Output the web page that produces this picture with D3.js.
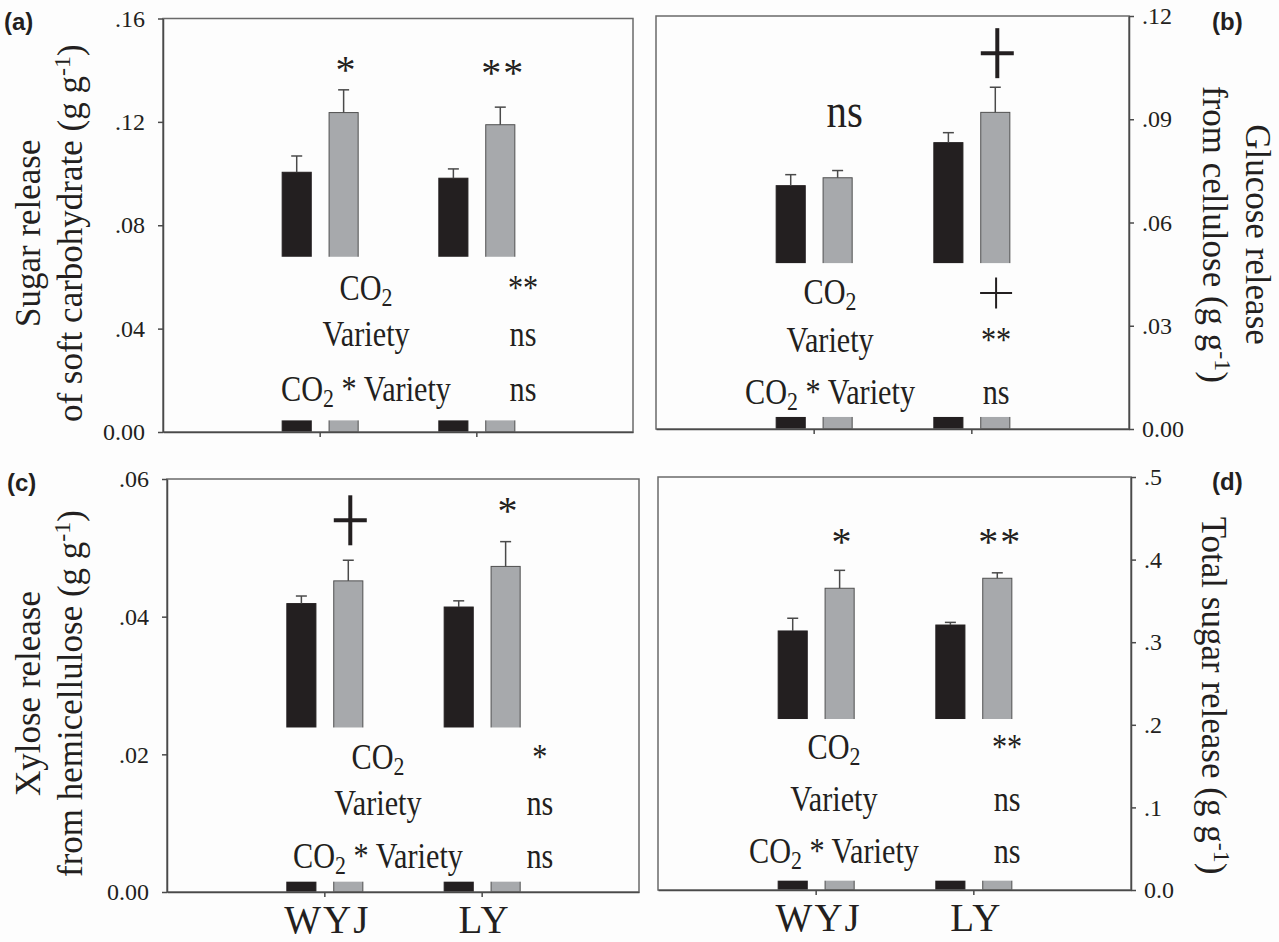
<!DOCTYPE html>
<html>
<head>
<meta charset="utf-8">
<script src="https://cdn.jsdelivr.net/npm/d3@7"></script>
<style>
body { margin: 0; background: #fdfdfd; }
svg { display: block; font-family: "Liberation Serif", "Times New Roman", serif; }
</style>
</head>
<body>
<svg id="chart" width="1279" height="942"></svg>
<script>
// categories
var varieties = ["WYJ", "LY"];
var co2Levels = ["ambient", "elevated"];
var statRows = ["CO2", "Variety", "CO2 * Variety"];

// (a) sugar release of soft carbohydrate
var sugarAmbient = [0.1005, 0.0982];
var sugarAmbientErr = [0.0063, 0.0036];
var sugarElevated = [0.1236, 0.1189];
var sugarElevatedErr = [0.0088, 0.0068];
var sugarTicks = [0, 0.04, 0.08, 0.12, 0.16];
var sugarTickLabels = ["0.00", ".04", ".08", ".12", ".16"];
var sugarBreak = [0.0045, 0.0678];
var sugarSig = ["*", "**"];
var sugarStats = ["**", "ns", "ns"];

// (b) glucose release from cellulose
var glucoseAmbient = [0.0707, 0.0832];
var glucoseAmbientErr = [0.0032, 0.0029];
var glucoseElevated = [0.0730, 0.0920];
var glucoseElevatedErr = [0.0021, 0.0073];
var glucoseTicks = [0, 0.03, 0.06, 0.09, 0.12];
var glucoseTickLabels = ["0.00", ".03", ".06", ".09", ".12"];
var glucoseBreak = [0.0035, 0.0482];
var glucoseSig = ["ns", "+"];
var glucoseStats = ["+", "**", "ns"];

// (c) xylose release from hemicellulose
var xyloseAmbient = [0.0419, 0.0414];
var xyloseAmbientErr = [0.0011, 0.0009];
var xyloseElevated = [0.0452, 0.0473];
var xyloseElevatedErr = [0.0030, 0.0036];
var xyloseTicks = [0, 0.02, 0.04, 0.06];
var xyloseTickLabels = ["0.00", ".02", ".04", ".06"];
var xyloseBreak = [0.0015, 0.0239];
var xyloseSig = ["+", "*"];
var xyloseStats = ["*", "ns", "ns"];

// (d) total sugar release
var totalAmbient = [0.3136, 0.3208];
var totalAmbientErr = [0.0154, 0.0032];
var totalElevated = [0.3653, 0.3774];
var totalElevatedErr = [0.0217, 0.0066];
var totalTicks = [0, 0.1, 0.2, 0.3, 0.4, 0.5];
var totalTickLabels = ["0.0", ".1", ".2", ".3", ".4", ".5"];
var totalBreak = [0.0113, 0.207];
var totalSig = ["*", "**"];
var totalStats = ["**", "ns", "ns"];

var svg = d3.select("#chart");
var ink = "#231f20";
var bg = "#fdfdfd";

//Layout of the four panels
var panels = [
  {tag: "(a)", amb: sugarAmbient, ambErr: sugarAmbientErr, ele: sugarElevated, eleErr: sugarElevatedErr,
   ticks: sugarTicks, labels: sugarTickLabels, brk: sugarBreak, sig: sugarSig, stats: sugarStats,
   x0: 163, x1: 633, y0: 18.5, y1: 432, side: "left", sigLevel: [0.135, 0.134],
   statLabelX: 0.432, statValX: 0.766, rowY: [300, 346, 401], xLabels: false,
   title: [["Sugar release"], ["of soft carbohydrate (g g", "-1", ")"]], titleX: [40, 82], tagX: 4, tagY: 30},
  {tag: "(b)", amb: glucoseAmbient, ambErr: glucoseAmbientErr, ele: glucoseElevated, eleErr: glucoseElevatedErr,
   ticks: glucoseTicks, labels: glucoseTickLabels, brk: glucoseBreak, sig: glucoseSig, stats: glucoseStats,
   x0: 656, x1: 1129, y0: 16, y1: 429, side: "right", sigLevel: [0.0877, 0.1092],
   statLabelX: 0.368, statValX: 0.719, rowY: [304, 352, 404], xLabels: false,
   title: [["Glucose release"], ["from cellulose (g g", "-1", ")"]], titleX: [1246, 1203], tagX: 1212, tagY: 30},
  {tag: "(c)", amb: xyloseAmbient, ambErr: xyloseAmbientErr, ele: xyloseElevated, eleErr: xyloseElevatedErr,
   ticks: xyloseTicks, labels: xyloseTickLabels, brk: xyloseBreak, sig: xyloseSig, stats: xyloseStats,
   x0: 167, x1: 639, y0: 479, y1: 892, side: "left", sigLevel: [0.054, 0.0535],
   statLabelX: 0.447, statValX: 0.790, rowY: [769, 815, 868], xLabels: true,
   title: [["Xylose release"], ["from hemicellulose (g g", "-1", ")"]], titleX: [40, 82], tagX: 7, tagY: 491},
  {tag: "(d)", amb: totalAmbient, ambErr: totalAmbientErr, ele: totalElevated, eleErr: totalElevatedErr,
   ticks: totalTicks, labels: totalTickLabels, brk: totalBreak, sig: totalSig, stats: totalStats,
   x0: 658, x1: 1131, y0: 477, y1: 890, side: "right", sigLevel: [0.4056, 0.4056],
   statLabelX: 0.372, statValX: 0.738, rowY: [759, 811, 863], xLabels: true,
   title: [["Total sugar release (g g", "-1", ")"]], titleX: [1202], tagX: 1212, tagY: 490}
];

//Draws a plus sign (the "+" significance mark) centred on cx, cy
function cross(g, cx, cy, w, h, sw) {
  g.append("line").attr("x1", cx - w / 2).attr("x2", cx + w / 2).attr("y1", cy).attr("y2", cy)
    .attr("stroke", ink).attr("stroke-width", sw);
  g.append("line").attr("x1", cx).attr("x2", cx).attr("y1", cy - h / 2).attr("y2", cy + h / 2)
    .attr("stroke", ink).attr("stroke-width", sw);
}

//Condensed serif text, with CO2 written with a subscript
function statText(g, x, y, str) {
  var t = g.append("text")
    .attr("transform", "translate(" + x + "," + y + ") scale(0.84,1)")
    .attr("text-anchor", "middle")
    .attr("font-size", 36)
    .attr("fill", ink);
  var parts = str.split("CO2");
  var shifted = false;
  parts.forEach(function(part, i) {
    if (i > 0) {
      t.append("tspan").text("CO");
      t.append("tspan").attr("dy", 6).attr("font-size", 26).text("2");
      shifted = true;
    }
    if (part.length) {
      var sp = t.append("tspan").text(part);
      if (shifted) { sp.attr("dy", -6); shifted = false; }
    }
  });
  return t;
}

function drawPanel(p) {
  var g = svg.append("g");
  var y = d3.scaleLinear().domain([0, p.ticks[p.ticks.length - 1]]).range([p.y1, p.y0]);
  var x = d3.scalePoint().domain(varieties).range([p.x0, p.x1]).padding(1);
  var inner = d3.scaleBand().domain(co2Levels).range([-37.5, 38.5]).paddingInner(0.38);
  var bw = inner.bandwidth();

  var rows = [];
  varieties.forEach(function(v, i) {
    rows.push({v: v, lvl: "ambient", val: p.amb[i], err: p.ambErr[i]});
    rows.push({v: v, lvl: "elevated", val: p.ele[i], err: p.eleErr[i]});
  });

  g.selectAll("rect.bar").data(rows).enter().append("rect")
    .attr("class", "bar")
    .attr("x", function(d) { return x(d.v) + inner(d.lvl); })
    .attr("y", function(d) { return y(d.val); })
    .attr("width", bw)
    .attr("height", function(d) { return y(0) - y(d.val); })
    .attr("fill", function(d) { return d.lvl == "ambient" ? ink : "#a7a9ac"; })
    .attr("stroke", function(d) { return d.lvl == "ambient" ? ink : "#505050"; })
    .attr("stroke-width", 1);

  //white gap where the statistics sit
  g.append("rect")
    .attr("x", p.x0 + 1).attr("width", p.x1 - p.x0 - 2)
    .attr("y", y(p.brk[1])).attr("height", y(p.brk[0]) - y(p.brk[1]))
    .attr("fill", bg);

  //error bars, upper half only
  rows.forEach(function(d) {
    var cx = x(d.v) + inner(d.lvl) + bw / 2;
    g.append("line").attr("x1", cx).attr("x2", cx).attr("y1", y(d.val)).attr("y2", y(d.val + d.err))
      .attr("stroke", "#4a4a4a").attr("stroke-width", 1.5);
    g.append("line").attr("x1", cx - 5.5).attr("x2", cx + 5.5).attr("y1", y(d.val + d.err)).attr("y2", y(d.val + d.err))
      .attr("stroke", "#4a4a4a").attr("stroke-width", 1.5);
  });

  //frame
  g.append("rect").attr("x", p.x0).attr("y", p.y0).attr("width", p.x1 - p.x0).attr("height", p.y1 - p.y0)
    .attr("fill", "none").attr("stroke", "#6a6a6a").attr("stroke-width", 1.5);

  //value axis
  var axis = (p.side == "left" ? d3.axisLeft(y) : d3.axisRight(y))
    .tickValues(p.ticks)
    .tickFormat(function(d, i) { return p.labels[i]; })
    .tickSize(5).tickSizeOuter(0).tickPadding(p.side == "left" ? 13 : 8);
  var ag = g.append("g").attr("transform", "translate(" + (p.side == "left" ? p.x0 : p.x1) + ",0)").call(axis);
  ag.select(".domain").attr("stroke", "#4a4a4a").attr("stroke-width", 1.5);
  ag.selectAll(".tick line").attr("stroke", "#4a4a4a").attr("stroke-width", 1.5);
  ag.selectAll(".tick text").attr("font-size", 24).attr("font-family", "Liberation Serif").attr("fill", ink);

  //category axis
  var xg = g.append("g").attr("transform", "translate(0," + p.y1 + ")")
    .call(d3.axisBottom(x).tickSize(5).tickSizeOuter(0).tickFormat(""));
  xg.select(".domain").attr("stroke", "#4a4a4a").attr("stroke-width", 1.5);
  xg.selectAll(".tick line").attr("stroke", "#4a4a4a").attr("stroke-width", 1.5);

  if (p.xLabels) {
    g.selectAll("text.cat").data(varieties).enter().append("text")
      .attr("class", "cat")
      .attr("x", function(d) { return x(d) + 3; })
      .attr("y", p.y1 + 41)
      .attr("text-anchor", "middle")
      .attr("font-size", 39)
      .attr("letter-spacing", 2)
      .attr("fill", ink)
      .text(function(d) { return d; });
  }

  //significance marks above the bars
  varieties.forEach(function(v, i) {
    var cx = x(v) + inner("elevated") + bw / 2;
    var cy = y(p.sigLevel[i]);
    var s = p.sig[i];
    if (s == "+") {
      cross(g, cx + 2, cy, 33, 50, 4);
    } else if (s == "ns") {
      g.append("text").attr("transform", "translate(" + (cx + 7) + "," + cy + ") scale(0.85,1)")
        .attr("text-anchor", "middle").attr("font-size", 48).attr("fill", ink).text(s);
    } else {
      g.append("text").attr("x", cx + 3).attr("y", cy)
        .attr("text-anchor", "middle").attr("font-size", 40).attr("letter-spacing", 2).attr("fill", ink).text(s);
    }
  });

  //statistics table
  var lx = p.x0 + p.statLabelX * (p.x1 - p.x0);
  var vx = p.x0 + p.statValX * (p.x1 - p.x0);
  statRows.forEach(function(r, i) {
    statText(g, lx, p.rowY[i], r);
    var s = p.stats[i];
    if (s == "+") {
      cross(g, vx, p.rowY[i] - 11, 32, 31, 2);
    } else {
      statText(g, vx, p.rowY[i], s);
    }
  });

  //axis title
  p.title.forEach(function(line, i) {
    var tx = p.titleX[i];
    var cy = (p.y0 + p.y1) / 2 + (p.side == "left" ? 8 : 12);
    var t = g.append("text")
      .attr("transform", "translate(" + tx + "," + cy + ") rotate(" + (p.side == "left" ? -90 : 90) + ")")
      .attr("text-anchor", "middle")
      .attr("font-size", 35)
      .attr("fill", ink);
    t.append("tspan").text(line[0]);
    if (line.length > 1) {
      t.append("tspan").attr("dy", -12).attr("font-size", 24).text(line[1]);
      t.append("tspan").attr("dy", 12).text(line[2]);
    }
  });

  //panel tag
  g.append("text").attr("x", p.tagX).attr("y", p.tagY)
    .attr("font-family", "Liberation Sans, Arial, sans-serif").attr("font-weight", "bold")
    .attr("font-size", 24).attr("fill", ink).text(p.tag);
}

panels.forEach(drawPanel);
</script>
</body>
</html>
